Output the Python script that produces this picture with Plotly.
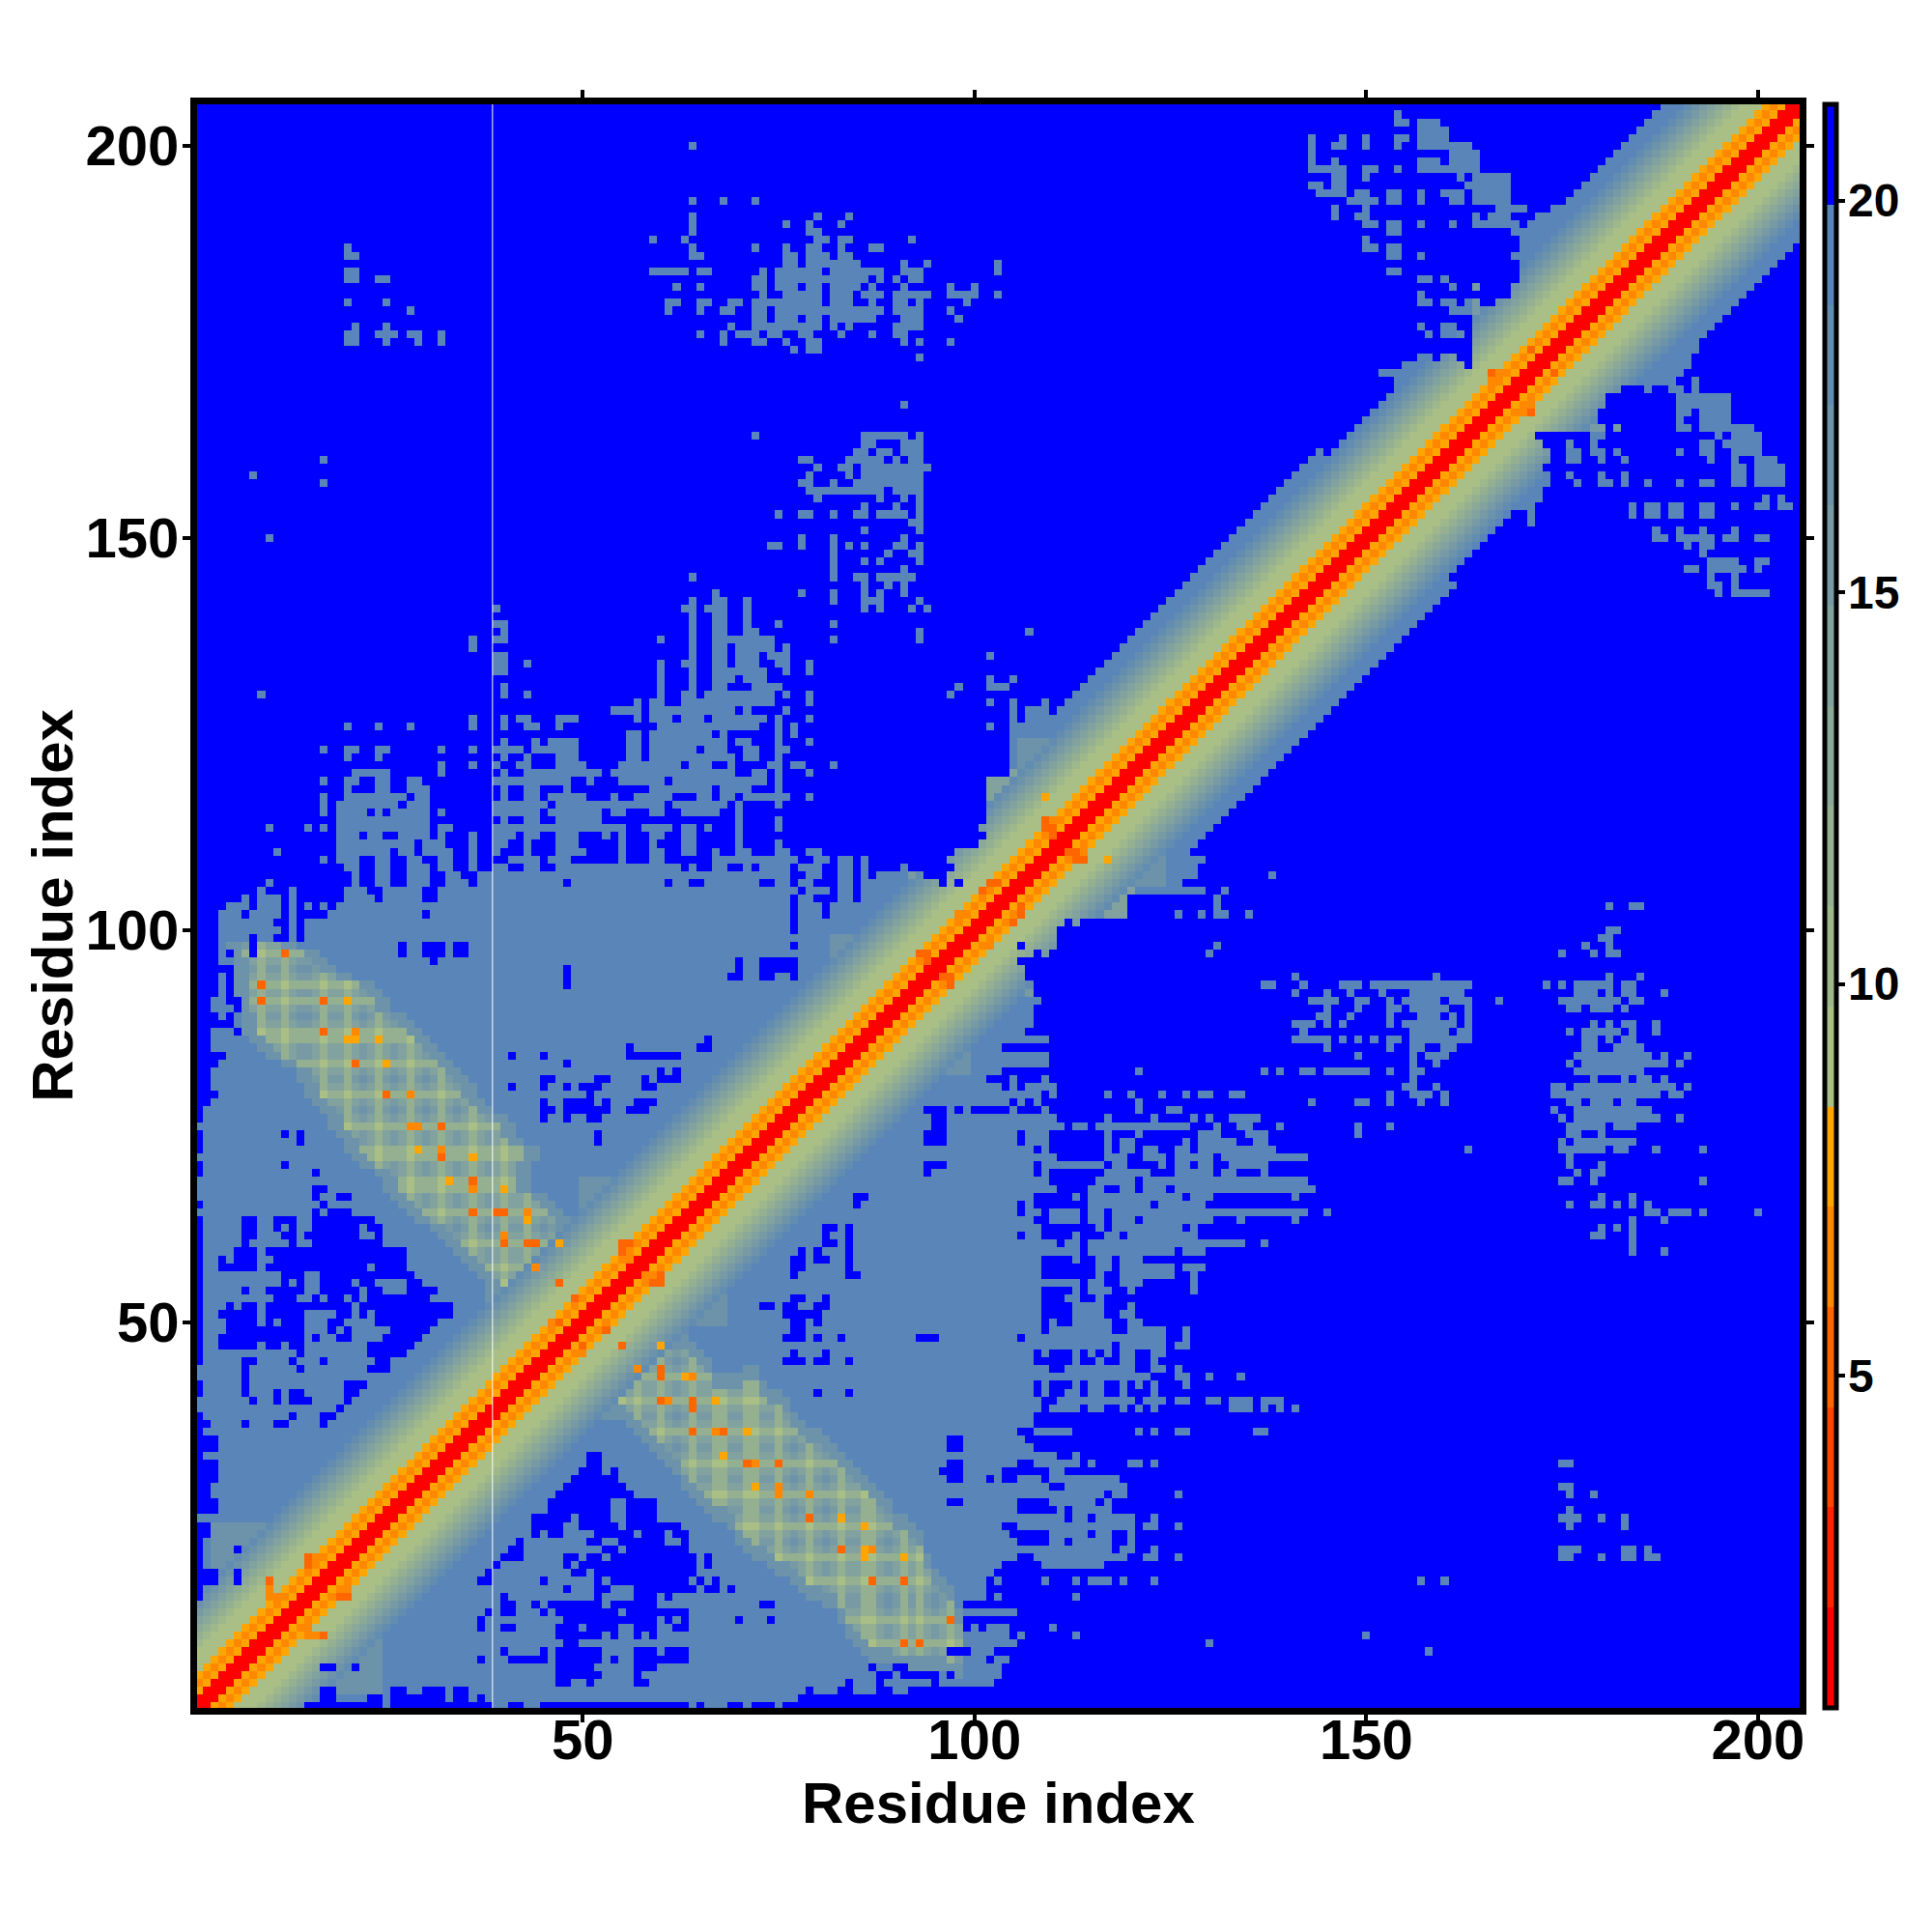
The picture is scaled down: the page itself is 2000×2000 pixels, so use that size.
import numpy as np
import plotly.graph_objects as go

N = 205
ZMIN, ZMAX = 0.76, 21.23
LEVEL_COLORS = ["#FF0000", "#FF2400", "#FF4500", "#FF6600", "#FF8800", "#FFA500",
                "#A9BF85", "#9FB88B", "#95B091", "#8BA998", "#81A29E", "#779AA4",
                "#6D93AB", "#638CB1", "#5985B8", "#0000FF"]
TICKS_MAIN = [50, 100, 150, 200]
TICKS_BAR = [5, 10, 15, 20]
SEAM_X = 38.5
AXIS_TITLE = "Residue index"

# colour level by separation from the diagonal
BAND_LEVELS = [1, 1, 6, 5, 6, 7, 7, 7, 8, 9, 10, 11, 12, 13, 14]
# (up to centre residue, last separation that is still under 20)
BAND_EDGE = [(118, 6), (152, 17), (160, 15), (178, 8), (205, 17)]

# rows above the big cluster: residues (x<y) with a distance under 20
STEEL_ROWS = {
 204: "154", 203: "154-155 157-159", 202: "157-160", 201: "143 147 150 154-155 157-160",
 200: "64 143 146-147 150 154 157-163", 199: "143 161-164", 198: "143 146 157-159 161-164",
 197: "143-147 150-151 154 157-164", 196: "146-147 150 162 164-168", 195: "143-144 146-147 163-168",
 194: "144-147 149-150 153-154 157 160-162 164-168", 193: "64 68 72 148-151 153-154 157 161-162 164-168",
 192: "146 150 167-170 174", 191: "64 80 84 146 149-150 164 166-168 172-175",
 190: "64 76 79 83 150-151 153-154 157 161 164-169 171-172", 189: "64 79-80 153-154 169-",
 188: "59 63 80-81 83-84 92 150 170-", 187: "20 64 72 76 79-80 83 87-88 150-151 153-154 170-",
 186: "20-21 64-65 76-77 79-81 83-84 153-154 154 157 169-", 185: "76-77 79-85 91 94 103 170-",
 184: "20-21 59-63 65-66 73 75-80 82-88 91-93 103 153-154 170-",
 183: "20-21 24-25 72-73 75-86 88 90 92-93 157-158 160 170-",
 182: "62 65 72-73 75-77 79-80 82-85 87 91 97 100 161 164 169-",
 181: "73 76-80 82-84 86-88 90-94 97-100 103 157 169-",
 180: "20 25 61-62 65-66 69-70 72-80 82-84 87 90-91 93 99 157-158 160-161 163-164 167-",
 179: "28 61 65 68-69 72-73 75-88 90-93 97 161-", 178: "72-73 75-77 79-80 82-87 91-93 98 164-",
 177: "21 25 69 72-80 82 84 90-93 157 160-161 164-", 176: "20-21 24-26 28-29 32 65 68 70-72 74-75 78-79 83 87 90-91 158 160-162 164-",
 175: "20-21 25 29 32 68 72-73 76 79-80 91 93 97 164-", 174: "77 79-80 164-", 173: "93 157-158 160-161 164-",
 172: "155-162 164-", 171: "152-", 170: "154-", 169: "154-", 168: "153-", 167: "91 152-", 166: "151-", 165: "150-",
 163: "72 86-91 93", 162: "86-87 91-93", 161: "85-86 88-89 91-93",
 160: "17 78-79 84-88 90 92-93", 159: "80 83-84 86-94", 158: "8 79 84 86-93", 157: "17 78-79 82 85-93",
 156: "79-88 90-93", 155: "80 88 91 93", 154: "86 90 93", 153: "75 78-79 82 85-86 88-91 93",
 152: "92-93", 151: "86 93", 150: "10 78 82 91", 149: "74-75 78 82 84 86 90-91 93",
 148: "82 89 92-93", 147: "82 86 88 93", 146: "82 91", 145: "64 82 85-86 88-92", 144: "86 89 91",
 143: "67 78 82 86 88 91", 142: "64 67-68 71 82 86-88 93", 141: "39 63-64 66-68 71 86 88 92 94",
 140: "64 67-68 71", 139: "39-40 64 67-68 71 75 82", 138: "40 64 67-68 71-72 93 107",
 137: "36 39-40 60 64 67-73 74 82 93", 136: "36 64 67-68 70-74 76", 135: "39-40 64 67-68 70-72 74-76 102",
 134: "39-40 43 60 63-64 67-68 70-72 75-76 79", 133: "39-40 60 64 67-73 76 79",
 132: "60 64 67-69 71-73 102 105", 131: "40 60 64 67-68 72-75 98 102-104",
 130: "9 40 43 60 63-64 66-74 76 79 97", 129: "57 59-60 63-74 79 102 105 109 113-",
 128: "54-57 59-69 71 76 105 107-109 111-", 127: "36 40 42-43 47-49 57 59-61 63-65 67-73 75 79 105 107-",
 126: "20 24 28 36 40 43-44 47 60-72 75 77 102 105-", 125: "56-57 59-66 68 75 77 105-",
 124: "40 44 46-49 56-57 59-68 70-71 75 79 105-",
 123: "17 20-21 24-25 32 36 39-42 44-49 56-57 59-64 66-68 71-72 75-76 105-",
 122: "20 24 40 43 47-49 56-57 59-69 71-72 75 105-",
 121: "32 36 39 42-43 47-50 55-62 64-66 69 74-75 77-78 82 105-",
 120: "21-25 32 40 43-52 54-69 72-73 75 79 105-",
 119: "17 20-21 24-25 28-29 39-48 51 55-60 62-73 75 102-",
 118: "20 24-25 28-30 40 43-44 48 59-66 68-71 75 102-",
 117: "17 20-27 29-30 40 43-44 46-50 54 57-61 65-66 68-69 71-76 79 102-",
 116: "17 19-26 28-30 39-45 47-60 62-68 70 75 102-",
 115: "17 19-22 24 26-30 32 39-44 46-52 54-55 59-60 63-67 70 102-",
 114: "19-30 40 43-44 47-52 70 75 102-",
 113: "10 15 17 19-30 32-33 39-55 58-61 63-64 66 70 75 101-",
 112: "19-21 23-24 27-30 32 36 39-41 43-44 47-49 53 55 59-60 63-64 70 102-",
 111: "19-28 30-32 36 39-40 43 47-49 55 59 63-64 70 75 101-",
 110: "11 19-25 27-28 30-33 36 39 43 47-50 55 59-60 63-64 67 70-71 75-76 79-80 98-",
 109: "17 19-21 24-25 28-29 32-33 36 41-44 46-48 55 59-60 67-77 80-81 83-84 86 97-",
 108: "20-21 24-25 28-30 32-33 36 39-40 43-44 47-62 64 67-68 71 73-76 78-80 83-84 86 91 98-",
 107: "21 24-25 28-30 33-34 37-76 79-80 83-84 86 88-93 97-",
 106: "10 21 24-25 28-30 33-35 37-47 49-60 62-63 66-72 75-76 78-79 83-84 86-95 97 99-",
 105: "9 13 20-22 25-29 32-77 79-81 83-84 86-",
 104: "7 9-11 13 20-23 25-29 32-76 78-79 83-84 86-",
 103: "5-7 9-11 13 15 17 19-76 78-80 82-",
 102: "4-6 8-11 13 18-29 31-76 78-80 82-",
 101: "4-10 13 15-76 78-",
}

# cluster rows, y<=100: residues (x<y) that are above 20 inside the under-20 cluster
BLUE_ROWS = {
 100: "1-3 12 14 77", 99: "1-3 8 11-12 14", 98: "1-3 8 27 30-32 34-35 77", 97: "1-3 5 8 27 30-32 34-35",
 96: "1-3 31 70 73-77", 95: "1-5 48 70 73-77", 94: "1-3 5 48 69-70 73-74 77", 93: "1-3 5 48", 92: "1-3 5",
 91: "1-2 5-6", 90: "1-2 6", 89: "1-3 5", 88: "1-5", 87: "1-2 6", 86: "1-2 66", 85: "1-2 56 65-66",
 84: "1-4 41 45 56-62", 83: "1-3 48", 82: "1-2 60 62", 81: "1-2 45-46 52-53 58 60-62",
 80: "1-2 41 45 48 50-52 58-59", 79: "1-3 51", 78: "1-2 45 48-51 53 57-59", 77: "1 45-46 48-53 56-58",
 76: "1 45 48 51-52", 74: "1 12 14 52", 73: "1 14 52", 72: "1", 70: "1 12", 69: "1 16", 67: "16-17",
 66: "16 19-20", 65: "1 17", 64: "16 18-20", 63: "1 7-8 11-13 16-23", 62: "1 7-8 11 13 16-21 23-24",
 61: "1 7-8 12-13 15-21 24", 60: "1 7 13 16-24", 59: "1 6-8 10-27", 58: "1 4 6-8 11-27", 57: "1 4-8 10-22 24-27",
 56: "1 12-14 17-28", 55: "1 12 14 17-20 22-23 28-29", 54: "1 7 10-14 17-21 23-24 28-31",
 53: "1 11-13 16 18-19 21 23-30", 52: "1 5 7-8 10-20 22-33", 51: "1 4-8 10-14 19-20 22 24-33",
 50: "1 5-8 10 12-14 18-19 24-31", 49: "1 5-14 18 20 26-30", 48: "1 4-14 16 19-20 25-29",
 47: "1 4-8 10-11 13-14 23-28", 46: "1 14 23-27", 45: "1 7-8 13 17 24-25", 44: "7 14 23-25", 43: "7",
 42: "1 7 20-22", 41: "1 7 11 13-14 20-21", 40: "8 11 13-15 20", 39: "19", 38: "1 13 17-18", 37: "1-2 7 11-12 17",
 36: "1", 35: "1-3", 34: "1-3", 33: "1", 32: "1-3", 31: "1-3", 30: "1-3", 29: "1-2", 28: "1-2", 27: "1-3",
 26: "1-3", 24: "1-2", 23: "1-2", 22: "1", 21: "1 6", 20: "1", 19: "1", 18: "1-3 6", 17: "1-3 6", 16: "1", 15: "1",
}

# crossing strand contacts: rows with their extent, and the stripes seen in them
STRAND_EXTENT = {
 98: (5, 13), 97: (5, 16), 96: (6, 17), 95: (6, 18), 94: (6, 20), 93: (6, 23), 92: (6, 24), 91: (6, 25),
 90: (6, 25), 89: (7, 27), 88: (7, 28), 87: (7, 29), 86: (8, 30), 85: (9, 31), 84: (10, 32), 83: (12, 33),
 82: (14, 34), 81: (14, 35), 80: (15, 36), 79: (15, 36), 78: (16, 37), 77: (17, 38),
 76: (18, 40), 75: (18, 41), 74: (19, 41), 73: (20, 42), 72: (20, 44), 71: (21, 44), 70: (22, 43), 69: (24, 43),
 68: (25, 43), 67: (25, 43), 66: (26, 45), 65: (27, 46), 64: (28, 47), 63: (29, 48), 62: (31, 48), 61: (32, 49),
 60: (33, 50), 59: (34, 50), 58: (35, 51), 57: (36, 52), 56: (37, 53), 55: (38, 53), 54: (38, 52), 53: (38, 51),
}
STRAND_COLS = [9, 12, 17, 20, 24, 28, 32, 36, 40, 43, 47]
STRAND_ROWS = [97, 93, 91, 87, 86, 83, 79, 75, 72, 71, 68, 67, 64, 60, 57, 55]

# softer patches next to the diagonal: x0, x1, y0, y1, level
SOFT_PATCHES = [(3, 12, 15, 24, 13), (6, 10, 16, 21, 10), (92, 102, 99, 108, 12), (100, 110, 108, 120, 11),
                (164, 173, 172, 182, 12), (106, 112, 116, 124, 13), (82, 92, 93, 99, 13), (50, 58, 60, 68, 13)]

# single close contacts: x, y, level
DOTS = [(12, 97, 4), (9, 93, 4), (9, 91, 4), (17, 91, 4), (20, 91, 6), (17, 87, 4), (21, 87, 5), (20, 86, 6),
        (21, 86, 6), (24, 86, 6), (21, 83, 4), (25, 83, 6), (25, 79, 4), (28, 79, 5), (28, 75, 5), (29, 75, 5),
        (32, 75, 4), (29, 72, 6), (32, 72, 5), (32, 71, 4), (36, 71, 6), (33, 68, 6), (36, 68, 4), (36, 67, 5),
        (40, 67, 6), (36, 64, 4), (39, 64, 4), (40, 64, 4), (43, 64, 5), (43, 63, 6), (40, 61, 5), (40, 60, 4),
        (43, 60, 4), (44, 60, 4), (47, 60, 6), (44, 57, 5), (47, 55, 4),
        (10, 17, 4), (10, 16, 5), (10, 15, 5), (11, 15, 5), (12, 15, 5), (15, 20, 4), (16, 20, 5), (15, 19, 4),
        (16, 19, 5), (46, 50, 5), (47, 50, 4), (49, 53, 4), (50, 53, 5), (55, 60, 4), (56, 60, 4), (55, 59, 4),
        (56, 59, 5), (56, 58, 5), (109, 117, 6), (109, 114, 4), (109, 113, 4), (110, 114, 5), (110, 113, 4),
        (110, 112, 4), (93, 97, 4), (94, 97, 4), (94, 96, 4), (102, 106, 4), (103, 106, 4), (101, 105, 4),
        (98, 102, 5), (166, 171, 4), (167, 171, 5), (166, 170, 5), (167, 170, 5), (171, 174, 4), (173, 176, 5)]


def expand(spec, y):
    out = []
    for tok in spec.split():
        if tok.endswith("-"):
            out.extend(range(int(tok[:-1]), y + 1))
        elif "-" in tok:
            a, b = tok.split("-")
            out.extend(range(int(a), int(b) + 1))
        else:
            out.append(int(tok))
    return [x for x in out if x <= y]


def near(v, stripes):
    return min(abs(v - s) for s in stripes)


levels = np.full((N + 1, N + 1), 16, dtype=int)  # indexed [y, x], 1-based
for y, spec in STEEL_ROWS.items():
    for x in expand(spec, y):
        levels[y, x] = 15
for y in range(1, 101):
    holes = set(expand(BLUE_ROWS.get(y, ""), y))
    for x in range(1, y + 1):
        levels[y, x] = 16 if x in holes else 15

for y, (a, b) in STRAND_EXTENT.items():
    for x in range(a, b + 1):
        if levels[y, x] == 16:
            continue
        dc, dr = near(x, STRAND_COLS), near(y, STRAND_ROWS)
        if dc == 0 and dr == 0:
            lev = 7
        elif dc == 0 or dr == 0:
            lev = 9
        elif dc == 1 and dr == 1:
            lev = 11
        elif dc == 1 or dr == 1:
            lev = 12
        else:
            lev = 13
        if x - a < 2 or b - x < 2:
            lev = max(lev, 13)
        levels[y, x] = lev

for x0, x1, y0, y1, lev in SOFT_PATCHES:
    for y in range(y0, y1 + 1):
        for x in range(x0, min(x1, y) + 1):
            if levels[y, x] == 15:
                levels[y, x] = lev

for y in range(1, N + 1):
    for x in range(1, y + 1):
        k = y - x
        centre = (x + y) // 2
        edge = next(e for c, e in BAND_EDGE if centre <= c)
        if k < len(BAND_LEVELS):
            if k <= edge or levels[y, x] != 16:
                levels[y, x] = BAND_LEVELS[k]
        elif k <= edge:
            levels[y, x] = 15

for x, y, lev in DOTS:
    levels[y, x] = lev

for y in range(1, N + 1):
    for x in range(y + 1, N + 1):
        levels[y, x] = levels[x, y]

step = (ZMAX - ZMIN) / len(LEVEL_COLORS)
z = ZMIN + (levels[1:, 1:] - 0.5) * step
colorscale = []
for i, c in enumerate(LEVEL_COLORS):
    colorscale += [[i / 16, c], [(i + 1) / 16, c]]

residues = list(range(1, N + 1))
fig = go.Figure(go.Heatmap(
    x=residues, y=residues, z=z, zmin=ZMIN, zmax=ZMAX, colorscale=colorscale,
    xgap=0, ygap=0, hoverinfo="skip",
    colorbar=dict(
        x=1.0157, xanchor="left", xpad=0, ypad=0, y=0.5, yanchor="middle", len=1, lenmode="fraction",
        thickness=12, thicknessmode="pixels", outlinecolor="black", outlinewidth=5, borderwidth=0,
        tickmode="array", tickvals=TICKS_BAR, ticks="outside", ticklen=7, tickwidth=4, tickcolor="black",
        showticklabels=False,
    ),
))

axis = dict(
    tickmode="array", tickvals=TICKS_MAIN, ticks="outside", ticklen=8, tickwidth=4, tickcolor="black",
    tickfont=dict(family="Liberation Sans", size=58, color="black", weight="bold"),
    showline=True, linecolor="black", linewidth=7, mirror="ticks", showgrid=False, zeroline=False,
    range=[0.8, 205.3],
)
title_font = dict(family="Liberation Sans", size=60, color="black", weight="bold")
bar_font = dict(family="Liberation Sans", size=48, color="black", weight="bold")
annotations = [
    dict(text=AXIS_TITLE, xref="paper", yref="paper", x=0.5, y=-0.0595, xanchor="center", yanchor="middle",
         showarrow=False, font=title_font),
    dict(text=AXIS_TITLE, xref="paper", yref="paper", x=-0.0905, y=0.5006, xanchor="center", yanchor="middle",
         showarrow=False, textangle=-90, font=title_font),
]
for v in TICKS_BAR:
    annotations.append(dict(text=str(v), xref="paper", yref="paper", x=1.0292, y=(v - ZMIN) / (ZMAX - ZMIN),
                            xanchor="left", yanchor="middle", xshift=0, showarrow=False, font=bar_font))

fig.update_layout(
    width=2000, height=2000, autosize=False,
    margin=dict(l=196, r=145, t=100, b=240),
    paper_bgcolor="white", plot_bgcolor="white",
    xaxis=dict(axis, ticklabelstandoff=-32),
    yaxis=dict(axis, ticklabelstandoff=-8, tickangle=0),
    shapes=[dict(type="line", xref="x", yref="paper", x0=SEAM_X, x1=SEAM_X, y0=0, y1=1,
                 line=dict(color="white", width=1))],
    annotations=annotations,
)
fig.write_html("out.html")
